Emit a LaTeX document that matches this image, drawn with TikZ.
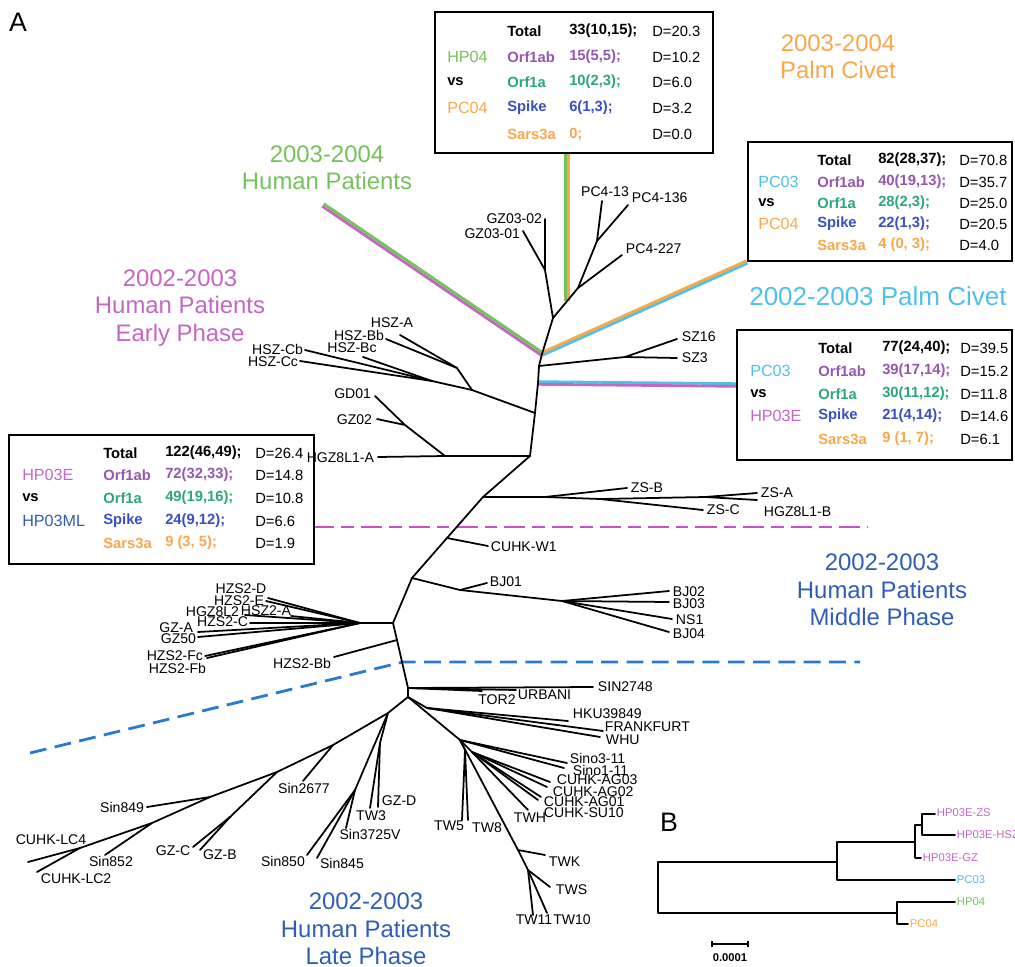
\documentclass[tikz,border=0pt]{standalone}
\usepackage{fontspec}
\setmainfont{Liberation Sans}

\definecolor{hpgreen}{HTML}{74C35A}
\definecolor{pcorange}{HTML}{F8A84A}
\definecolor{pccyan}{HTML}{4FC1E9}
\definecolor{hpepink}{HTML}{C466C4}
\definecolor{hpmblue}{HTML}{2F5EB6}
\definecolor{orfpurple}{HTML}{9656B0}
\definecolor{orfgreen}{HTML}{2CA67C}
\definecolor{spikeblue}{HTML}{3A4FC2}
\definecolor{dashblue}{HTML}{2A7AD0}
\definecolor{dashpink}{HTML}{C452C4}

\begin{document}
\begin{tikzpicture}[x=0.025cm,y=-0.025cm,
  br/.style={line width=1.25pt,line cap=round,line join=round},
  band/.style={line width=2pt},
  lbl/.style={font=\fontsize{10}{11}\selectfont,inner sep=0.5pt},
  big/.style={font=\fontsize{17}{19.5}\selectfont,align=center,inner sep=0pt},
  boxln/.style={line width=2pt},
  cname/.style={font=\fontsize{11.5}{13}\selectfont,anchor=west,inner sep=0pt},
  cgene/.style={font=\fontsize{10.5}{12}\selectfont\bfseries,anchor=west,inner sep=0pt},
  cdist/.style={font=\fontsize{10.5}{12}\selectfont,anchor=west,inner sep=0pt},
  smlbl/.style={font=\fontsize{8}{9}\selectfont,inner sep=0.5pt,anchor=west}]
\useasboundingbox (0,0) rectangle (1015,967);

\node[font=\fontsize{19}{20}\selectfont,inner sep=0pt] (pA) at (18,22) {A};
\node[font=\fontsize{19}{20}\selectfont,inner sep=0pt] (pB) at (669,822) {B};

% group names
\node[big,pcorange] (gPC04) at (838,57) {2003-2004\\Palm Civet};
\node[big,hpgreen] (gHP04) at (327,168) {2003-2004\\Human Patients};
\node[big,hpepink] (gHP03E) at (180,308) {2002-2003\\Human Patients\\Early Phase};
\node[big,pccyan,font=\fontsize{18.5}{20}\selectfont] (gPC03) at (878,296) {2002-2003 Palm Civet};
\node[big,hpmblue] (gHP03M) at (882,590) {2002-2003\\Human Patients\\Middle Phase};
\node[big,hpmblue] (gHP03L) at (366,929) {2002-2003\\Human Patients\\Late Phase};

% phase borders
\coordinate (dP1) at (313,527);
\coordinate (dP2) at (868,527);
\coordinate (dB1) at (30,753);
\coordinate (dB2) at (403,662);
\coordinate (dB3) at (860,662);
\draw[dashpink,line width=2pt,dash pattern=on 15pt off 5pt on 9pt off 5pt] (dP1)--(dP2);
\draw[dashblue,line width=2pt,dash pattern=on 12pt off 6pt] (dB1)--(dB2)--(dB3);

% backbone
\coordinate (n1) at (553,318);
\coordinate (n2) at (542,354);
\coordinate (n3) at (539,366);
\coordinate (n3b) at (538,383);
\coordinate (n4) at (535,413);
\coordinate (n5) at (530,456);
\coordinate (nZS) at (483,497);
\coordinate (nW1) at (447,538);
\coordinate (nBJ) at (412,578);
\coordinate (nCl) at (393,623);
\coordinate (nBb) at (397,640);
\coordinate (nSN) at (408,688);
\coordinate (nLow) at (408,697);

% coloured bands to the boxes
\coordinate (hpEnd) at (323,205);
\coordinate (pcEnd) at (747,262);
\coordinate (vTop) at (567,154);
\coordinate (vBot) at (567,301);
\coordinate (hEnd) at (737,385);
\draw[band,hpgreen] ([shift={(-1.3,0)}]vTop)--([shift={(-1.3,0)}]vBot);
\draw[band,pcorange] ([shift={(1.3,0)}]vTop)--([shift={(1.3,0)}]vBot);
\draw[band,hpepink] ([shift={(-0.8,1.2)}]hpEnd)--([shift={(-0.8,1.2)}]n2);
\draw[band,hpgreen] ([shift={(0.8,-1.2)}]hpEnd)--([shift={(0.8,-1.2)}]n2);
\draw[band,pccyan] ([shift={(0.5,1.2)}]n2)--([shift={(0.5,1.2)}]pcEnd);
\draw[band,pcorange] ([shift={(-0.5,-1.2)}]n2)--([shift={(-0.5,-1.2)}]pcEnd);
\draw[band,pccyan] ([shift={(0,-1.3)}]n3b)--([shift={(0,-1.3)}]hEnd);
\draw[band,hpepink] ([shift={(0,1.3)}]n3b)--([shift={(0,1.3)}]hEnd);

\draw[br] (n1)--(n2)--(n3)--(n3b)--(n4)--(n5)--(nZS)--(nW1)--(nBJ)--(nCl)--(nBb)--(nSN)--(nLow);

% GZ03 and PC4
\coordinate (nGZ) at (545,270);
\coordinate (tGZ2) at (545,219);
\coordinate (tGZ1) at (523,231);
\coordinate (nPa) at (578,288);
\coordinate (nPb) at (597,241);
\coordinate (tPC13) at (602,201);
\coordinate (tPC136) at (628,205);
\coordinate (tPC227) at (622,255);
\draw[br] (tGZ2)--(nGZ)--(n1)--(nPa)--(nPb)--(tPC13);
\draw[br] (tGZ1)--(nGZ);
\draw[br] (nPb)--(tPC136);
\draw[br] (nPa)--(tPC227);
\node[lbl,anchor=east] (lGZ2) at (543,219) {GZ03-02};
\node[lbl,anchor=east] (lGZ1) at (521,234) {GZ03-01};
\node[lbl,anchor=south] (lPC13) at (605,198) {PC4-13};
\node[lbl,anchor=west] (lPC136) at (631,198) {PC4-136};
\node[lbl,anchor=west] (lPC227) at (625,249) {PC4-227};

% SZ
\coordinate (nSZ) at (625,357);
\coordinate (tSZ16) at (677,339);
\coordinate (tSZ3) at (677,358);
\draw[br] (n3)--(nSZ)--(tSZ16);
\draw[br] (nSZ)--(tSZ3);
\node[lbl,anchor=west] (lSZ16) at (681,337) {SZ16};
\node[lbl,anchor=west] (lSZ3) at (681,358) {SZ3};

% HSZ
\coordinate (h1) at (472,390);
\coordinate (h2) at (457,368);
\coordinate (hC) at (432,381);
\coordinate (tHA) at (400,335);
\coordinate (tHBb) at (386,339);
\coordinate (tHBc) at (363,357);
\coordinate (tHCb) at (305,350);
\coordinate (tHCc) at (300,361);
\draw[br] (n4)--(h1)--(h2)--(tHA);
\draw[br] (h2)--(tHBb);
\draw[br] (h1)--(hC)--(tHBc);
\draw[br] (hC)--(tHCb);
\draw[br] (hC)--(tHCc);
\node[lbl] (lHA) at (392,323) {HSZ-A};
\node[lbl,anchor=east] (lHBb) at (385,335) {HSZ-Bb};
\node[lbl] (lHBc) at (352,348) {HSZ-Bc};
\node[lbl,anchor=east] (lHCb) at (304,349) {HSZ-Cb};
\node[lbl,anchor=east] (lHCc) at (299,362) {HSZ-Cc};

% GD01, GZ02, HGZ8L1-A
\coordinate (nG) at (445,456);
\coordinate (nG2) at (405,425);
\coordinate (tGD01) at (375,396);
\coordinate (tGZ02) at (377,419);
\coordinate (tHGZA) at (378,457);
\draw[br] (n5)--(nG)--(tHGZA);
\draw[br] (nG)--(nG2)--(tGD01);
\draw[br] (nG2)--(tGZ02);
\node[lbl,anchor=east] (lGD01) at (372,394) {GD01};
\node[lbl,anchor=east] (lGZ02) at (373,420) {GZ02};
\node[lbl,anchor=east] (lHGZA) at (375,458) {HGZ8L1-A};

% ZS
\coordinate (zs1) at (545,497);
\coordinate (zs2) at (600,499);
\coordinate (zs3) at (705,497);
\coordinate (tZSB) at (627,488);
\coordinate (tZSC) at (703,510);
\coordinate (tZSA) at (757,493);
\coordinate (tHGZB) at (757,500);
\draw[br] (nZS)--(zs1)--(zs2)--(zs3)--(tZSA);
\draw[br] (zs1)--(tZSB);
\draw[br] (zs2)--(tZSC);
\draw[br] (zs3)--(tHGZB);
\node[lbl,anchor=west] (lZSB) at (630,488) {ZS-B};
\node[lbl,anchor=west] (lZSC) at (706,510) {ZS-C};
\node[lbl,anchor=west] (lZSA) at (760,493) {ZS-A};
\node[lbl,anchor=west] (lHGZB) at (763,512) {HGZ8L1-B};

% CUHK-W1
\coordinate (tW1) at (488,546);
\draw[br] (nW1)--(tW1);
\node[lbl,anchor=west] (lW1) at (490,547) {CUHK-W1};

% BJ
\coordinate (bj1) at (460,590);
\coordinate (bj2) at (562,601);
\coordinate (tBJ01) at (487,583);
\coordinate (tBJ02) at (669,591);
\coordinate (tBJ03) at (669,602);
\coordinate (tNS1) at (672,619);
\coordinate (tBJ04) at (669,632);
\draw[br] (nBJ)--(bj1)--(tBJ01);
\draw[br] (bj1)--(bj2)--(tBJ02);
\draw[br] (bj2)--(tBJ03);
\draw[br] (bj2)--(tNS1);
\draw[br] (bj2)--(tBJ04);
\node[lbl,anchor=west] (lBJ01) at (489,582) {BJ01};
\node[lbl,anchor=west] (lBJ02) at (672,592) {BJ02};
\node[lbl,anchor=west] (lBJ03) at (672,604) {BJ03};
\node[lbl,anchor=west] (lNS1) at (675,620) {NS1};
\node[lbl,anchor=west] (lBJ04) at (672,634) {BJ04};

% HZS2 cluster
\coordinate (hz) at (360,623);
\coordinate (tHZD) at (268,598);
\coordinate (tHZE) at (266,601);
\coordinate (tHSZ2A) at (291,616);
\coordinate (tHGZ8L2) at (245,615);
\coordinate (tHZC) at (250,623);
\coordinate (tGZA) at (198,632);
\coordinate (tGZ50) at (198,637);
\coordinate (tHZFc) at (205,656);
\coordinate (tHZFb) at (207,658);
\coordinate (tHZBb) at (334,657);
\draw[br] (nCl)--(hz)--(tHZD);
\draw[br] (hz)--(tHZE);
\draw[br] (hz)--(tHSZ2A);
\draw[br] (hz)--(tHGZ8L2);
\draw[br] (hz)--(tHZC);
\draw[br] (hz)--(tGZA);
\draw[br] (hz)--(tGZ50);
\draw[br] (hz)--(tHZFc);
\draw[br] (hz)--(tHZFb);
\draw[br] (nBb)--(tHZBb);
\node[lbl] (lHZD) at (241,589) {HZS2-D};
\node[lbl,anchor=east] (lHZE) at (265,601) {HZS2-E};
\node[lbl,anchor=east] (lHGZ8L2) at (240,612) {HGZ8L2};
\node[lbl] (lHSZ2A) at (266,611) {HSZ2-A};
\node[lbl,anchor=east] (lHZC) at (249,622) {HZS2-C};
\node[lbl,anchor=east] (lGZA) at (194,628) {GZ-A};
\node[lbl,anchor=east] (lGZ50) at (197,639) {GZ50};
\node[lbl,anchor=east] (lHZFc) at (204,656) {HZS2-Fc};
\node[lbl,anchor=east] (lHZFb) at (207,668) {HZS2-Fb};
\node[lbl,anchor=east] (lHZBb) at (332,663) {HZS2-Bb};

% SIN2748, TOR2, URBANI
\coordinate (tSIN) at (593,687);
\coordinate (tTOR2) at (482,691);
\coordinate (tURB) at (516,690);
\draw[br] (nSN)--(tSIN);
\draw[br] (nSN)--(tTOR2);
\draw[br] (nSN)--(tURB);
\node[lbl,anchor=west] (lSIN) at (597,687) {SIN2748};
\node[lbl] (lTOR2) at (497,700) {TOR2};
\node[lbl,anchor=west] (lURB) at (517,695) {URBANI};

% HKU39849, FRANKFURT, WHU
\coordinate (nHK) at (427,708);
\coordinate (tHKU) at (568,721);
\coordinate (tFRA) at (603,731);
\coordinate (tWHU) at (600,737);
\draw[br] (nLow)--(nHK)--(tHKU);
\draw[br] (nHK)--(tFRA);
\draw[br] (nHK)--(tWHU);
\node[lbl,anchor=west] (lHKU) at (572,714) {HKU39849};
\node[lbl,anchor=west] (lFRA) at (604,727) {FRANKFURT};
\node[lbl,anchor=west] (lWHU) at (605,740) {WHU};

% Sino, CUHK-AG, TW
\coordinate (nTW) at (460,740);
\coordinate (nAG) at (472,752);
\coordinate (tSino3) at (567,763);
\coordinate (tSino1) at (564,768);
\coordinate (tAG03) at (550,782);
\coordinate (tAG02) at (547,787);
\coordinate (tAG01) at (541,797);
\coordinate (tSU10) at (538,800);
\coordinate (tTWH) at (528,810);
\draw[br] (nLow)--(nTW)--(tSino3);
\draw[br] (nTW)--(tSino1);
\draw[br] (nTW)--(nAG)--(tAG03);
\draw[br] (nAG)--(tAG02);
\draw[br] (nAG)--(tAG01);
\draw[br] (nAG)--(tSU10);
\draw[br] (nAG)--(tTWH);
\node[lbl,anchor=west] (lSino3) at (569,758) {Sino3-11};
\node[lbl,anchor=west] (lSino1) at (572,770) {Sino1-11};
\node[lbl,anchor=west] (lAG03) at (556,780) {CUHK-AG03};
\node[lbl,anchor=west] (lAG02) at (552,792) {CUHK-AG02};
\node[lbl,anchor=west] (lAG01) at (543,802) {CUHK-AG01};
\node[lbl,anchor=west] (lSU10) at (543,813) {CUHK-SU10};
\node[lbl] (lTWH) at (530,818) {TWH};

\coordinate (nT58) at (465,750);
\coordinate (tTW5) at (462,820);
\coordinate (tTW8) at (468,820);
\coordinate (nTK) at (518,850);
\coordinate (nTS) at (528,870);
\coordinate (tTWK) at (545,855);
\coordinate (tTWS) at (550,887);
\coordinate (tTW11) at (533,915);
\coordinate (tTW10) at (547,913);
\draw[br] (nTW)--(nT58)--(tTW5);
\draw[br] (nT58)--(tTW8);
\draw[br] (nTW)--(nTK)--(tTWK);
\draw[br] (nTK)--(nTS)--(tTWS);
\draw[br] (nTS)--(tTW11);
\draw[br] (nTS)--(tTW10);
\node[lbl] (lTW5) at (449,826) {TW5};
\node[lbl] (lTW8) at (487,828) {TW8};
\node[lbl,anchor=west] (lTWK) at (548,862) {TWK};
\node[lbl,anchor=west] (lTWS) at (555,890) {TWS};
\node[lbl] (lTW11) at (534,920) {TW11};
\node[lbl] (lTW10) at (572,920) {TW10};

% lower left clade
\coordinate (nL1) at (388,713);
\coordinate (nGD) at (380,743);
\coordinate (nSn) at (355,790);
\coordinate (nL2) at (333,745);
\coordinate (nL3) at (277,772);
\coordinate (nGC) at (230,817);
\coordinate (nL4) at (210,797);
\coordinate (nL5) at (152,823);
\coordinate (nL6) at (80,848);
\coordinate (tGZD) at (378,807);
\coordinate (tTW3) at (370,808);
\coordinate (tS3725) at (346,828);
\coordinate (tS850) at (307,855);
\coordinate (tS845) at (317,858);
\coordinate (tS2677) at (303,781);
\coordinate (tGZC) at (193,847);
\coordinate (tGZB) at (200,850);
\coordinate (tS849) at (147,807);
\coordinate (tS852) at (105,855);
\coordinate (tLC4) at (28,862);
\coordinate (tLC2) at (37,872);
\draw[br] (nLow)--(nL1)--(nGD)--(tGZD);
\draw[br] (nGD)--(tTW3);
\draw[br] (nL1)--(nSn)--(tS3725);
\draw[br] (nSn)--(tS850);
\draw[br] (nSn)--(tS845);
\draw[br] (nL1)--(nL2)--(nL3)--(nL4)--(nL5)--(nL6)--(tLC4);
\draw[br] (nL6)--(tLC2);
\draw[br] (nL2)--(tS2677);
\draw[br] (nL3)--(nGC)--(tGZC);
\draw[br] (nGC)--(tGZB);
\draw[br] (nL4)--(tS849);
\draw[br] (nL5)--(tS852);
\node[lbl,anchor=west] (lGZD) at (381,801) {GZ-D};
\node[lbl] (lTW3) at (371,816) {TW3};
\node[lbl] (lS3725) at (370,834) {Sin3725V};
\node[lbl] (lS850) at (283,861) {Sin850};
\node[lbl] (lS845) at (342,863) {Sin845};
\node[lbl] (lS2677) at (304,788) {Sin2677};
\node[lbl] (lGZC) at (173,851) {GZ-C};
\node[lbl] (lGZB) at (220,855) {GZ-B};
\node[lbl,anchor=east] (lS849) at (145,807) {Sin849};
\node[lbl] (lS852) at (111,861) {Sin852};
\node[lbl] (lLC4) at (51,840) {CUHK-LC4};
\node[lbl,anchor=west] (lLC2) at (40,879) {CUHK-LC2};

% box: HP04 vs PC04
\draw[boxln] (435,12) rectangle (713,153);
\node[cgene] (bT1g) at (507,31) {Total};
\node[cgene] (bT1n) at (569,31) {33(10,15);};
\node[cdist] (bT1d) at (652,31) {D=20.3};
\node[cname,hpgreen] (bT2s) at (447,57) {HP04};
\node[cgene,orfpurple] (bT2g) at (507,57) {Orf1ab};
\node[cgene,orfpurple] (bT2n) at (569,57) {15(5,5);};
\node[cdist] (bT2d) at (652,57) {D=10.2};
\node[cgene] (bT3s) at (447,82) {vs};
\node[cgene,orfgreen] (bT3g) at (507,82) {Orf1a};
\node[cgene,orfgreen] (bT3n) at (569,82) {10(2,3);};
\node[cdist] (bT3d) at (652,82) {D=6.0};
\node[cname,pcorange] (bT4s) at (447,108) {PC04};
\node[cgene,spikeblue] (bT4g) at (507,108) {Spike};
\node[cgene,spikeblue] (bT4n) at (569,108) {6(1,3);};
\node[cdist] (bT4d) at (652,108) {D=3.2};
\node[cgene,pcorange] (bT5g) at (507,134) {Sars3a};
\node[cgene,pcorange] (bT5n) at (569,134) {0;};
\node[cdist] (bT5d) at (652,134) {D=0.0};

% box: PC03 vs PC04
\draw[boxln] (748,142) rectangle (1012,261);
\node[cgene] (bR1g) at (817,160) {Total};
\node[cgene] (bR1n) at (878,160) {82(28,37);};
\node[cdist] (bR1d) at (959,160) {D=70.8};
\node[cname,pccyan] (bR2s) at (758,182) {PC03};
\node[cgene,orfpurple] (bR2g) at (817,182) {Orf1ab};
\node[cgene,orfpurple] (bR2n) at (878,182) {40(19,13);};
\node[cdist] (bR2d) at (959,182) {D=35.7};
\node[cgene] (bR3s) at (758,203) {vs};
\node[cgene,orfgreen] (bR3g) at (817,203) {Orf1a};
\node[cgene,orfgreen] (bR3n) at (878,203) {28(2,3);};
\node[cdist] (bR3d) at (959,203) {D=25.0};
\node[cname,pcorange] (bR4s) at (758,224) {PC04};
\node[cgene,spikeblue] (bR4g) at (817,224) {Spike};
\node[cgene,spikeblue] (bR4n) at (878,224) {22(1,3);};
\node[cdist] (bR4d) at (959,224) {D=20.5};
\node[cgene,pcorange] (bR5g) at (817,245) {Sars3a};
\node[cgene,pcorange] (bR5n) at (878,245) {4 (0,\ 3);};
\node[cdist] (bR5d) at (959,245) {D=4.0};

% box: PC03 vs HP03E
\draw[boxln] (737,330) rectangle (1012,460);
\node[cgene] (bM1g) at (818,348) {Total};
\node[cgene] (bM1n) at (882,348) {77(24,40);};
\node[cdist] (bM1d) at (960,348) {D=39.5};
\node[cname,pccyan] (bM2s) at (750,371) {PC03};
\node[cgene,orfpurple] (bM2g) at (818,371) {Orf1ab};
\node[cgene,orfpurple] (bM2n) at (882,371) {39(17,14);};
\node[cdist] (bM2d) at (960,371) {D=15.2};
\node[cgene] (bM3s) at (750,394) {vs};
\node[cgene,orfgreen] (bM3g) at (818,394) {Orf1a};
\node[cgene,orfgreen] (bM3n) at (882,394) {30(11,12);};
\node[cdist] (bM3d) at (960,394) {D=11.8};
\node[cname,hpepink] (bM4s) at (750,416) {HP03E};
\node[cgene,spikeblue] (bM4g) at (818,416) {Spike};
\node[cgene,spikeblue] (bM4n) at (882,416) {21(4,14);};
\node[cdist] (bM4d) at (960,416) {D=14.6};
\node[cgene,pcorange] (bM5g) at (818,439) {Sars3a};
\node[cgene,pcorange] (bM5n) at (882,439) {9 (1,\ 7);};
\node[cdist] (bM5d) at (960,439) {D=6.1};

% box: HP03E vs HP03ML
\draw[boxln] (9,435) rectangle (314,564);
\node[cgene] (bL1g) at (103,453) {Total};
\node[cgene] (bL1n) at (165,453) {122(46,49);};
\node[cdist] (bL1d) at (255,453) {D=26.4};
\node[cname,hpepink] (bL2s) at (22,475) {HP03E};
\node[cgene,orfpurple] (bL2g) at (103,475) {Orf1ab};
\node[cgene,orfpurple] (bL2n) at (165,475) {72(32,33);};
\node[cdist] (bL2d) at (255,475) {D=14.8};
\node[cgene] (bL3s) at (22,498) {vs};
\node[cgene,orfgreen] (bL3g) at (103,498) {Orf1a};
\node[cgene,orfgreen] (bL3n) at (165,498) {49(19,16);};
\node[cdist] (bL3d) at (255,498) {D=10.8};
\node[cname,hpmblue] (bL4s) at (22,521) {HP03ML};
\node[cgene,spikeblue] (bL4g) at (103,521) {Spike};
\node[cgene,spikeblue] (bL4n) at (165,521) {24(9,12);};
\node[cdist] (bL4d) at (255,521) {D=6.6};
\node[cgene,pcorange] (bL5g) at (103,543) {Sars3a};
\node[cgene,pcorange] (bL5n) at (165,543) {9 (3,\ 5);};
\node[cdist] (bL5d) at (255,543) {D=1.9};

% panel B
\coordinate (bRt) at (658,862);
\coordinate (bRb) at (658,913);
\coordinate (bH) at (837,862);
\coordinate (bHt) at (837,842);
\coordinate (bHb) at (837,880);
\coordinate (bE) at (915,842);
\coordinate (bEt) at (915,825);
\coordinate (bEb) at (915,858);
\coordinate (bZ) at (922,825);
\coordinate (bZt) at (922,814);
\coordinate (bZb) at (922,835);
\coordinate (bP) at (897,913);
\coordinate (bPt) at (897,902);
\coordinate (bPb) at (897,924);
\coordinate (eZS) at (935,814);
\coordinate (eHSZ) at (955,835);
\coordinate (eGZ) at (921,858);
\coordinate (ePC03) at (955,880);
\coordinate (eHP04) at (955,902);
\coordinate (ePC04) at (908,924);
\draw[br] (eZS)--(bZt)--(bZb)--(eHSZ);
\draw[br] (bZ)--(bEt)--(bEb)--(eGZ);
\draw[br] (bE)--(bHt)--(bHb)--(ePC03);
\draw[br] (bH)--(bRt)--(bRb)--(bP);
\draw[br] (eHP04)--(bPt)--(bPb)--(ePC04);
\node[smlbl,hpepink] (sZS) at (936,813) {HP03E-ZS};
\node[smlbl,hpepink] (sHSZ) at (956,835) {HP03E-HSZ};
\node[smlbl,hpepink] (sGZ) at (922,858) {HP03E-GZ};
\node[smlbl,pccyan] (sPC03) at (956,880) {PC03};
\node[smlbl,hpgreen] (sHP04) at (956,902) {HP04};
\node[smlbl,pcorange] (sPC04) at (909,924) {PC04};
\coordinate (sc1) at (712,944);
\coordinate (sc2) at (748,944);
\draw[line width=1.2pt] (sc1)--(sc2);
\draw[line width=1.2pt] ([shift={(0,-3)}]sc1)--([shift={(0,3)}]sc1);
\draw[line width=1.2pt] ([shift={(0,-3)}]sc2)--([shift={(0,3)}]sc2);
\node[font=\fontsize{8}{9}\selectfont\bfseries,inner sep=0pt] (sc) at (730,958) {0.0001};

\end{tikzpicture}
\end{document}
